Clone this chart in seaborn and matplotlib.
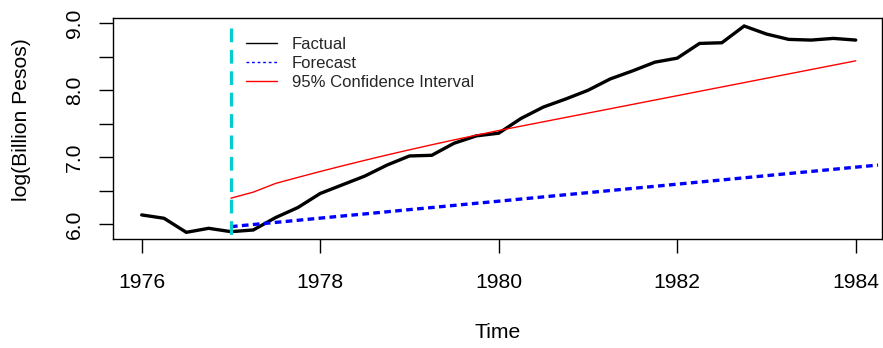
import matplotlib
matplotlib.use("Agg")
import matplotlib.pyplot as plt
from matplotlib.lines import Line2D
import numpy as np
import pandas as pd
import seaborn as sns

# Quarterly observations of the series (log of billion pesos)
factual_time = [1976.00, 1976.25, 1976.50, 1976.75, 1977.00, 1977.25, 1977.50, 1977.75,
                1978.00, 1978.25, 1978.50, 1978.75, 1979.00, 1979.25, 1979.50, 1979.75,
                1980.00, 1980.25, 1980.50, 1980.75, 1981.00, 1981.25, 1981.50, 1981.75,
                1982.00, 1982.25, 1982.50, 1982.75, 1983.00, 1983.25, 1983.50, 1983.75,
                1984.00]
factual_value = [6.14, 6.09, 5.88, 5.94, 5.89, 5.915, 6.10, 6.25,
                 6.46, 6.59, 6.72, 6.885, 7.02, 7.03, 7.21, 7.32,
                 7.36, 7.58, 7.75, 7.87, 8.00, 8.17, 8.29, 8.42,
                 8.48, 8.70, 8.71, 8.96, 8.84, 8.76, 8.75, 8.775,
                 8.75]

# Point forecast made at the end of 1976
forecast_time = [1977.00, 1977.25, 1977.50, 1977.75, 1978.00, 1978.25, 1978.50, 1978.75,
                 1979.00, 1979.25, 1979.50, 1979.75, 1980.00, 1980.25, 1980.50, 1980.75,
                 1981.00, 1981.25, 1981.50, 1981.75, 1982.00, 1982.25, 1982.50, 1982.75,
                 1983.00, 1983.25, 1983.50, 1983.75, 1984.00, 1984.25]
forecast_value = [5.965, 5.997, 6.028, 6.060, 6.092, 6.124, 6.155, 6.187,
                  6.219, 6.250, 6.282, 6.314, 6.345, 6.377, 6.409, 6.441,
                  6.472, 6.504, 6.536, 6.567, 6.599, 6.631, 6.662, 6.694,
                  6.726, 6.758, 6.789, 6.821, 6.853, 6.884]

# Upper bound of the 95% confidence interval
upper_time = forecast_time[:29]
upper_value = [6.39, 6.48, 6.61, 6.70, 6.788, 6.873, 6.955, 7.035,
               7.112, 7.187, 7.26, 7.33, 7.40, 7.465, 7.53, 7.595,
               7.66, 7.725, 7.79, 7.855, 7.92, 7.985, 8.05, 8.115,
               8.18, 8.245, 8.31, 8.375, 8.44]

forecast_start = 1977.0

x_ticks = [1976, 1978, 1980, 1982, 1984]
y_ticks = [6.0, 6.5, 7.0, 7.5, 8.0, 8.5, 9.0]
y_tick_labels = ["6.0", "", "7.0", "", "8.0", "", "9.0"]
legend_labels = ["Factual", "Forecast", "95% Confidence Interval"]

sns.set_style("ticks")
plt.rcParams["font.family"] = ["Liberation Sans", "DejaVu Sans"]

W, H, DPI = 883, 348, 100
fig = plt.figure(figsize=(W / DPI, H / DPI), dpi=DPI)
left, right, top, bottom = 113.3, 881.7, 18.3, 239.3
ax = fig.add_axes([left / W, 1 - bottom / H, (right - left) / W, (bottom - top) / H])

df_fact = pd.DataFrame({"time": factual_time, "value": factual_value})
df_fc = pd.DataFrame({"time": forecast_time, "value": forecast_value})
df_up = pd.DataFrame({"time": upper_time, "value": upper_value})

sns.lineplot(data=df_fact, x="time", y="value", ax=ax, color="black",
             linewidth=2.4, solid_joinstyle="miter")
sns.lineplot(data=df_fc, x="time", y="value", ax=ax, color="#0000ff",
             linewidth=2.4, linestyle=(0, (2.0, 1.3)))
sns.lineplot(data=df_up, x="time", y="value", ax=ax, color="#ff0000",
             linewidth=1.0)
ax.axvline(forecast_start, ymin=0.9575, ymax=0.0, color="#00cdcd",
           linewidth=2.3, linestyle=(0, (4.3, 2.4)))

ax.set_xlim(1975.682, 1984.291)
ax.set_ylim(5.776, 9.075)
ax.set_xticks(x_ticks)
ax.set_xticklabels([str(t) for t in x_ticks])
ax.set_yticks(y_ticks)
ax.set_yticklabels(y_tick_labels)

for s in ax.spines.values():
    s.set_visible(True)
    s.set_color("black")
    s.set_linewidth(1.0)

ax.tick_params(axis="both", direction="out", length=10, width=1.0,
               color="black", labelsize=15.2, labelcolor="black")
ax.tick_params(axis="x", pad=14)
ax.tick_params(axis="y", pad=11, labelrotation=90)
for lab in ax.get_yticklabels():
    lab.set_va("center")

ax.set_xlabel("Time", fontsize=15.2, color="black")
ax.xaxis.set_label_coords(0.5, -(333 - bottom) / (bottom - top))
ax.xaxis.label.set_va("center")
ax.set_ylabel("log(Billion Pesos)", fontsize=15.2, color="black", va="center")
ax.yaxis.set_label_coords((22 - left) / (right - left), (bottom - 120) / (bottom - top))

handles = [
    Line2D([], [], color="black", linewidth=1.0),
    Line2D([], [], color="#0000ff", linewidth=1.0, linestyle=(0, (2, 2))),
    Line2D([], [], color="#ff0000", linewidth=1.0),
]
ax.legend(handles, legend_labels, loc="upper left",
          bbox_to_anchor=(245.7 / W, 1 - 37.2 / H), bbox_transform=fig.transFigure,
          frameon=False, fontsize=12, handlelength=1.86, handletextpad=0.9,
          labelspacing=0.23, borderpad=0, borderaxespad=0)

fig.savefig("out.png", dpi=DPI)
